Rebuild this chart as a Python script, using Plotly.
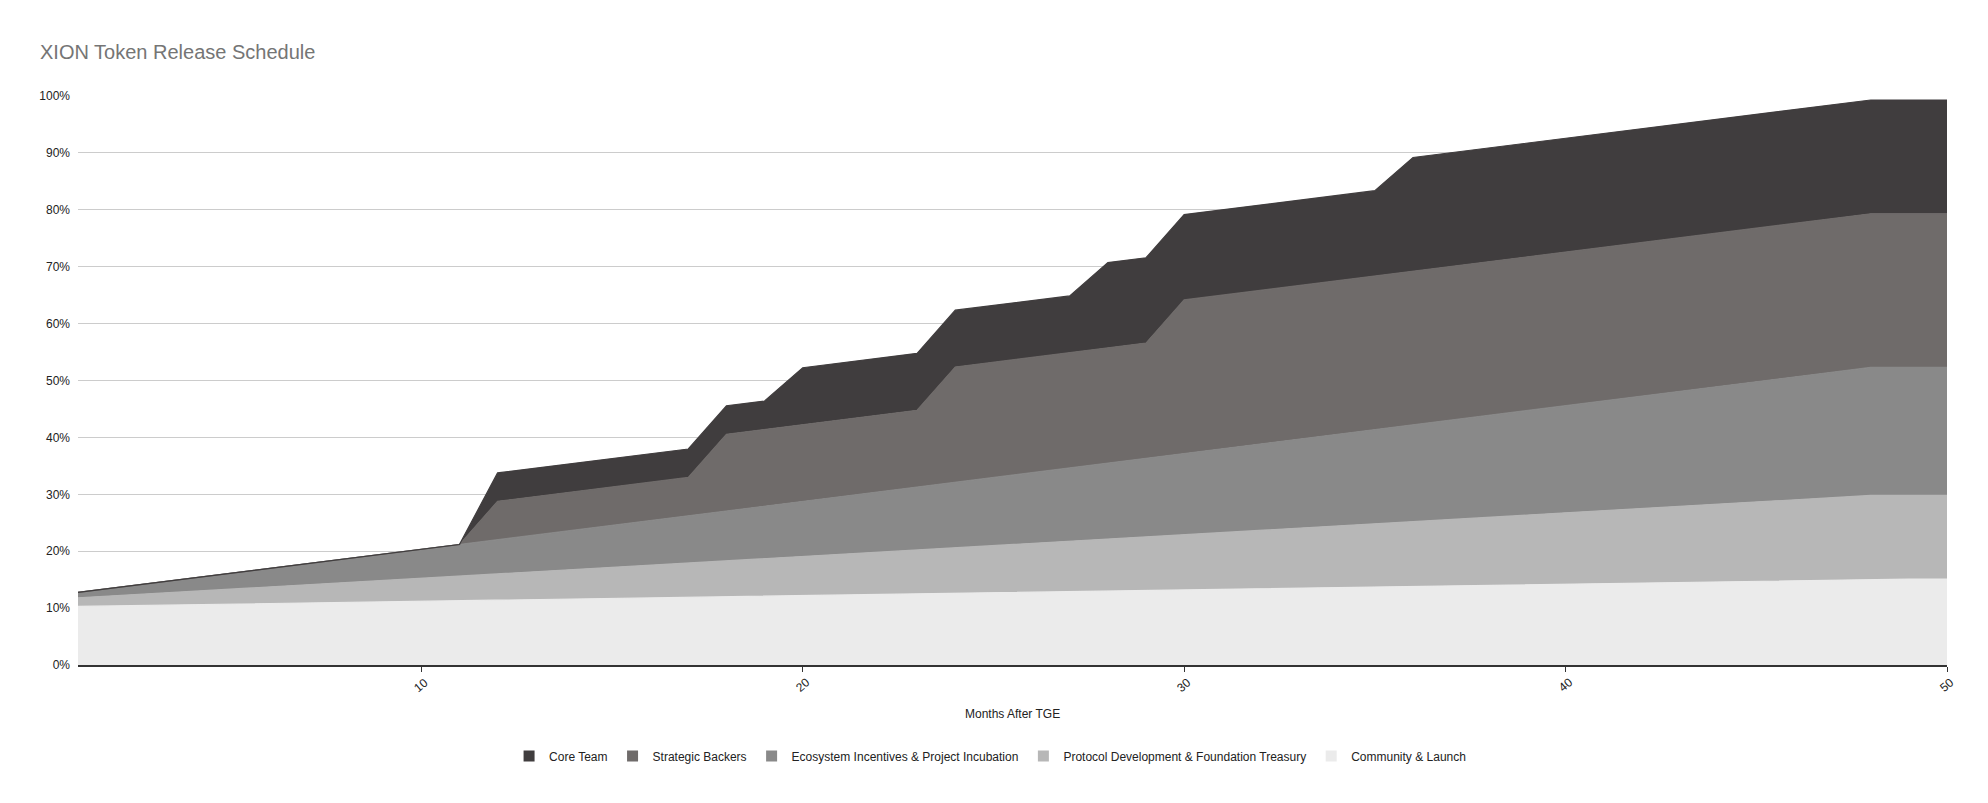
import plotly.graph_objects as go

months = list(range(1, 51))

community_launch = [
    10.30, 10.40, 10.50, 10.61, 10.71, 10.81, 10.91, 11.01, 11.12, 11.22,
    11.32, 11.42, 11.53, 11.63, 11.73, 11.83, 11.93, 12.04, 12.14, 12.24,
    12.34, 12.44, 12.55, 12.65, 12.75, 12.85, 12.95, 13.06, 13.16, 13.26,
    13.36, 13.46, 13.57, 13.67, 13.77, 13.87, 13.98, 14.08, 14.18, 14.28,
    14.38, 14.49, 14.59, 14.69, 14.79, 14.89, 15.00, 15.10, 15.10, 15.10,
]

protocol_dev = [
    1.50, 1.78, 2.06, 2.34, 2.62, 2.90, 3.19, 3.47, 3.75, 4.03,
    4.31, 4.59, 4.87, 5.15, 5.43, 5.71, 5.99, 6.28, 6.56, 6.84,
    7.12, 7.40, 7.68, 7.96, 8.24, 8.52, 8.80, 9.08, 9.37, 9.65,
    9.93, 10.21, 10.49, 10.77, 11.05, 11.33, 11.61, 11.89, 12.17, 12.46,
    12.74, 13.02, 13.30, 13.58, 13.86, 14.14, 14.42, 14.70, 14.70, 14.70,
]

ecosystem = [
    0.95, 1.41, 1.87, 2.33, 2.78, 3.24, 3.70, 4.16, 4.62, 5.08,
    5.54, 6.00, 6.45, 6.91, 7.37, 7.83, 8.29, 8.74, 9.20, 9.66,
    10.12, 10.58, 11.04, 11.50, 11.95, 12.41, 12.87, 13.33, 13.79, 14.25,
    14.71, 15.16, 15.62, 16.08, 16.54, 17.00, 17.46, 17.91, 18.37, 18.83,
    19.29, 19.75, 20.21, 20.67, 21.12, 21.58, 22.04, 22.50, 22.50, 22.50,
]

strategic_backers = [
    0, 0, 0, 0, 0, 0, 0, 0, 0, 0,
    0, 6.75, 6.75, 6.75, 6.75, 6.75, 6.75, 13.5, 13.5, 13.5,
    13.5, 13.5, 13.5, 20.25, 20.25, 20.25, 20.25, 20.25, 20.25, 27,
    27, 27, 27, 27, 27, 27, 27, 27, 27, 27,
    27, 27, 27, 27, 27, 27, 27, 27, 27, 27,
]

core_team = [
    0, 0, 0, 0, 0, 0, 0, 0, 0, 0,
    0, 5, 5, 5, 5, 5, 5, 5, 5, 10,
    10, 10, 10, 10, 10, 10, 10, 15, 15, 15,
    15, 15, 15, 15, 15, 20, 20, 20, 20, 20,
    20, 20, 20, 20, 20, 20, 20, 20, 20, 20,
]

series_names = [
    "Community & Launch",
    "Protocol Development & Foundation Treasury",
    "Ecosystem Incentives & Project Incubation",
    "Strategic Backers",
    "Core Team",
]
series_values = [community_launch, protocol_dev, ecosystem, strategic_backers, core_team]
series_colors = ["#ebebeb", "#b7b7b7", "#898989", "#6f6b6a", "#403d3e"]

y_ticks = list(range(0, 101, 10))
y_tick_labels = [f"{v}%" for v in y_ticks]
x_ticks = [10, 20, 30, 40, 50]
x_tick_labels = ["10", "20", "30", "40", "50"]

FONT = "Arial, 'Liberation Sans', sans-serif"

fig = go.Figure()
for name, vals, col in zip(series_names, series_values, series_colors):
    fig.add_trace(go.Scatter(
        x=months, y=vals, name=name, mode="lines",
        stackgroup="one", fill="tonexty", fillcolor=col,
        line=dict(color=col, width=1.2),
        hoverinfo="x+y+name", showlegend=False,
    ))

# legend entries with square swatches (top series first)
for name, col in reversed(list(zip(series_names, series_colors))):
    fig.add_trace(go.Scatter(
        x=[None], y=[None], name=name, mode="markers",
        marker=dict(symbol="square", size=11, color=col),
        showlegend=True, hoverinfo="skip",
    ))

# page has an 8px body margin; compensate so plot sits where the reference has it
OFF = 8
L, R, T, B = 78 - OFF, 41 + OFF, 96 - OFF, 138 + OFF
plot_h = 803 - T - B
axis_page_y = 665

annotations = [dict(
    text="Months After TGE", xref="paper", yref="paper",
    x=0.5, y=(axis_page_y - 714) / plot_h, xanchor="center", yanchor="middle",
    showarrow=False, font=dict(family=FONT, size=12, color="#222222"),
)]
# rotated x tick labels, centred under their ticks like the reference
for v, lab in zip(x_ticks, x_tick_labels):
    annotations.append(dict(
        text=lab, xref="x", yref="paper", x=v,
        y=(axis_page_y - 685) / plot_h, xanchor="center", yanchor="middle",
        textangle=-40, showarrow=False,
        font=dict(family=FONT, size=12, color="#222222"),
    ))

fig.update_layout(
    width=1988, height=803,
    margin=dict(l=L, r=R, t=T, b=B, pad=0),
    paper_bgcolor="white", plot_bgcolor="white",
    font=dict(family=FONT, size=12, color="#222222"),
    title=dict(
        text="XION Token Release Schedule",
        font=dict(family=FONT, size=20, color="#757575"),
        x=(40 - OFF) / 1988, xref="container", xanchor="left",
        y=1 - (52 - OFF) / 803, yref="container", yanchor="middle",
    ),
    showlegend=True,
    legend=dict(
        orientation="h", traceorder="normal",
        x=0.488, xanchor="center",
        y=(axis_page_y - 756) / plot_h, yanchor="middle",
        font=dict(family=FONT, size=12, color="#222222"),
        itemwidth=30, bgcolor="rgba(0,0,0,0)",
    ),
    xaxis=dict(
        range=[1, 50], tickvals=x_ticks, showticklabels=False,
        showgrid=False, zeroline=False,
        showline=True, linecolor="#333333", linewidth=1.5,
        ticks="outside", ticklen=5, tickcolor="#333333", tickwidth=1,
    ),
    xaxis2=dict(
        range=[1, 50], overlaying="x", anchor="y", side="bottom",
        tickvals=x_ticks, showticklabels=False, showgrid=False, zeroline=False,
        ticks="inside", ticklen=5, tickcolor="#333333", tickwidth=1,
        showline=False,
    ),
    yaxis=dict(
        range=[0, 100], tickvals=y_ticks, ticktext=y_tick_labels,
        showgrid=True, gridcolor="#cccccc", gridwidth=1, zeroline=False,
        showline=False, ticks="", ticklabelstandoff=7,
        tickfont=dict(family=FONT, size=12, color="#222222"),
    ),
    annotations=annotations,
)

fig.write_html("out.html")
